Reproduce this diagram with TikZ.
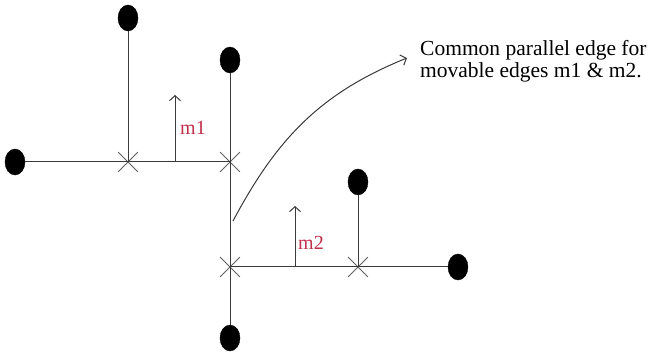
\documentclass[tikz,border=0pt]{standalone}
\usepackage{fontspec}
\setmainfont{Liberation Serif}
\usepackage{xcolor}
\usepackage{tikz}
\usetikzlibrary{positioning, arrows.meta, shapes.geometric, shapes.misc}
\definecolor{edgeGray}{HTML}{3a3a3a}
\definecolor{moveRed}{HTML}{c0304a}

\begin{document}
\begin{tikzpicture}[x=1pt, y=1pt, dot/.style={ellipse, fill=black, draw=black, inner sep=0pt, minimum width=20pt, minimum height=26pt}, xmark/.style={cross out, draw=edgeGray!80, line width=0.8pt, minimum size=19pt, inner sep=0pt}, edg/.style={line width=1pt, color=edgeGray}, arr/.style={-{Straight Barb[length=5pt, width=11pt]}, line width=1pt, color=edgeGray}, lbl/.style={font=\fontsize{20}{22}\selectfont, color=moveRed}]
\useasboundingbox (0,0) rectangle (651,356);
\node[dot] (dl) at (15,194) {};
\node[dot] (dtl) at (128,338) {};
\node[dot] (dtm) at (230,296) {};
\node[dot] (db) at (230,18) {};
\node[dot] (dr) at (458,89) {};
\node[dot] (drm) at (358,174) {};
\node[xmark] (c1) at (128,194) {};
\node[xmark] (c2) at (230,194) {};
\node[xmark] (c3) at (230,89) {};
\node[xmark] (c4) at (358,89) {};
\draw[edg] (dl)--(c1.center); \draw[edg] (c1.center)--(c2.center); \draw[edg] (dtl)--(c1.center);
\draw[edg] (dtm)--(c2.center); \draw[edg] (c2.center)--(c3.center); \draw[edg] (c3.center)--(db);
\draw[edg] (c3.center)--(c4.center); \draw[edg] (c4.center)--(dr); \draw[edg] (c4.center)--(drm);
% movable edges
\coordinate (m1a) at (175,194); \coordinate (m1b) at (175,261);
\coordinate (m2a) at (295,89); \coordinate (m2b) at (295,150);
\draw[arr] (m1a)--(m1b); \draw[arr] (m2a)--(m2b);
\node[lbl] (m1) at (193,228) {m1};
\node[lbl] (m2) at (311,113) {m2};
% common parallel edge
\node[font=\fontsize{21.5}{22}\selectfont, align=left, anchor=base west, inner sep=0pt] (note) at (420,278) {Common parallel edge for\\movable edges m1 \& m2.};
\coordinate (cs) at (233,135); \coordinate (ce) at (407,298);
\draw[arr] (cs) to[out=62, in=202] (ce);
\end{tikzpicture}
\end{document}
